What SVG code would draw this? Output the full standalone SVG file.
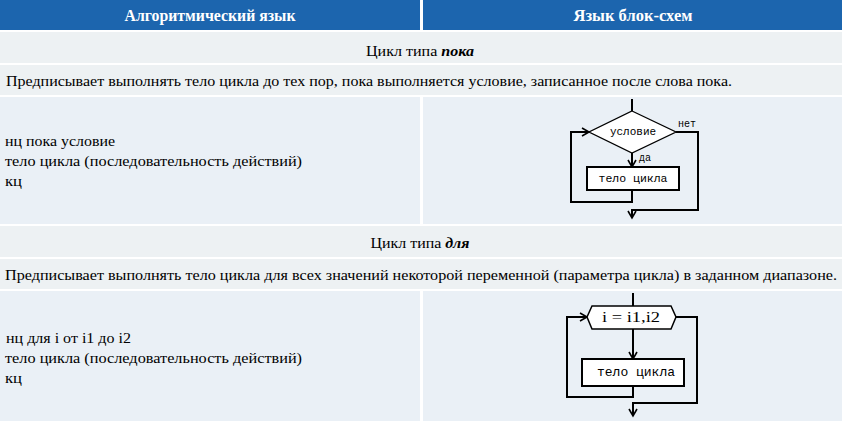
<svg xmlns="http://www.w3.org/2000/svg" width="844" height="425" viewBox="0 0 844 425">
<style>
.hdr{fill:#1C65AE}
.full{fill:#EDF1F3}
.cell{fill:#EAF0F6}
.ht{font-family:'Liberation Serif','Times New Roman',Times,'DejaVu Serif',serif;font-size:16px;font-weight:bold;fill:#fff;text-anchor:middle}
.t{font-family:'Liberation Serif','Times New Roman',Times,'DejaVu Serif',serif;font-size:15px;fill:#000}
.c{text-anchor:middle}
.m{font-family:'Liberation Mono','Courier New','DejaVu Sans Mono',monospace;fill:#000;text-anchor:middle}
.ln{fill:none;stroke:#000;stroke-width:2}
.sh{fill:#fff;stroke:#000}
</style>
<defs>
<marker id="arr" markerUnits="userSpaceOnUse" markerWidth="12" markerHeight="12" refX="10" refY="6" orient="auto">
<path d="M3,2 L10,6 L3,10" fill="none" stroke="#000" stroke-width="1.6"/>
</marker>
</defs>
<rect width="844" height="425" fill="#fff"/>
<g id="table">
<rect class="hdr" x="0" y="0" width="420" height="30"/>
<rect class="hdr" x="423" y="0" width="419" height="30"/>
<text class="ht" x="210" y="21" textLength="171" lengthAdjust="spacingAndGlyphs">Алгоритмический язык</text>
<text class="ht" x="633" y="21" textLength="119" lengthAdjust="spacingAndGlyphs">Язык блок-схем</text>
<rect class="full" x="0" y="32" width="842" height="31"/>
<text class="t c" x="420" y="56" textLength="108" lengthAdjust="spacingAndGlyphs">Цикл типа <tspan font-weight="bold" font-style="italic">пока</tspan></text>
<rect class="full" x="0" y="65" width="842" height="30"/>
<text class="t" x="6" y="86" textLength="726" lengthAdjust="spacingAndGlyphs">Предписывает выполнять тело цикла до тех пор, пока выполняется условие, записанное после слова пока.</text>
<rect class="cell" x="0" y="97" width="420" height="127"/>
<rect class="cell" x="423" y="97" width="419" height="127"/>
<text class="t" x="5" y="146" textLength="110" lengthAdjust="spacingAndGlyphs">нц пока условие</text>
<text class="t" x="5" y="166" textLength="297" lengthAdjust="spacingAndGlyphs">тело цикла (последовательность действий)</text>
<text class="t" x="5" y="186" textLength="17" lengthAdjust="spacingAndGlyphs">кц</text>
<rect class="full" x="0" y="226" width="842" height="31"/>
<text class="t c" x="420" y="248" textLength="99" lengthAdjust="spacingAndGlyphs">Цикл типа <tspan font-weight="bold" font-style="italic">для</tspan></text>
<rect class="full" x="0" y="259" width="842" height="30"/>
<text class="t" x="5" y="280" textLength="832" lengthAdjust="spacingAndGlyphs">Предписывает выполнять тело цикла для всех значений некоторой переменной (параметра цикла) в заданном диапазоне.</text>
<rect class="cell" x="0" y="291" width="420" height="130"/>
<rect class="cell" x="423" y="291" width="419" height="130"/>
<text class="t" x="6" y="343" textLength="125" lengthAdjust="spacingAndGlyphs">нц для i от i1 до i2</text>
<text class="t" x="5" y="363" textLength="297" lengthAdjust="spacingAndGlyphs">тело цикла (последовательность действий)</text>
<text class="t" x="5" y="383" textLength="17" lengthAdjust="spacingAndGlyphs">кц</text>
</g>
<g id="connectors">
<path class="ln" d="M632,99 V111"/>
<path class="ln" d="M632,153 V167" marker-end="url(#arr)"/>
<path class="ln" d="M632,190 V202 H571 V132 H589" marker-end="url(#arr)"/>
<path class="ln" d="M676,132 H698 V210 H632 V218" marker-end="url(#arr)"/>
<path class="ln" d="M633,293 V306"/>
<path class="ln" d="M633,329 V359" marker-end="url(#arr)"/>
<path class="ln" d="M633,386 V397 H567 V317 H587" marker-end="url(#arr)"/>
<path class="ln" d="M676,317 H697 V403 H633 V416" marker-end="url(#arr)"/>
</g>
<g id="cond">
<polygon class="sh" stroke-width="1.3" points="632,111 676,132 632,153 589,132"/>
<text class="m" x="633" y="135" font-size="11">условие</text>
</g>
<text class="m" x="687" y="127" font-size="10">нет</text>
<text class="m" x="645" y="161" font-size="10">да</text>
<g id="body1">
<rect class="sh" stroke-width="2" x="587" y="167" width="92" height="23"/>
<text class="m" x="633" y="182" font-size="11.5">тело цикла</text>
</g>
<g id="loop">
<polygon class="sh" stroke-width="1.5" points="587,317 592,306 671,306 676,317 671,329 592,329"/>
<text class="t c" x="631" y="322" textLength="58" lengthAdjust="spacingAndGlyphs">i = i1,i2</text>
</g>
<g id="body2">
<rect class="sh" stroke-width="2" x="582" y="359" width="102" height="27"/>
<text class="m" x="636" y="376" font-size="13">тело цикла</text>
</g>
</svg>
